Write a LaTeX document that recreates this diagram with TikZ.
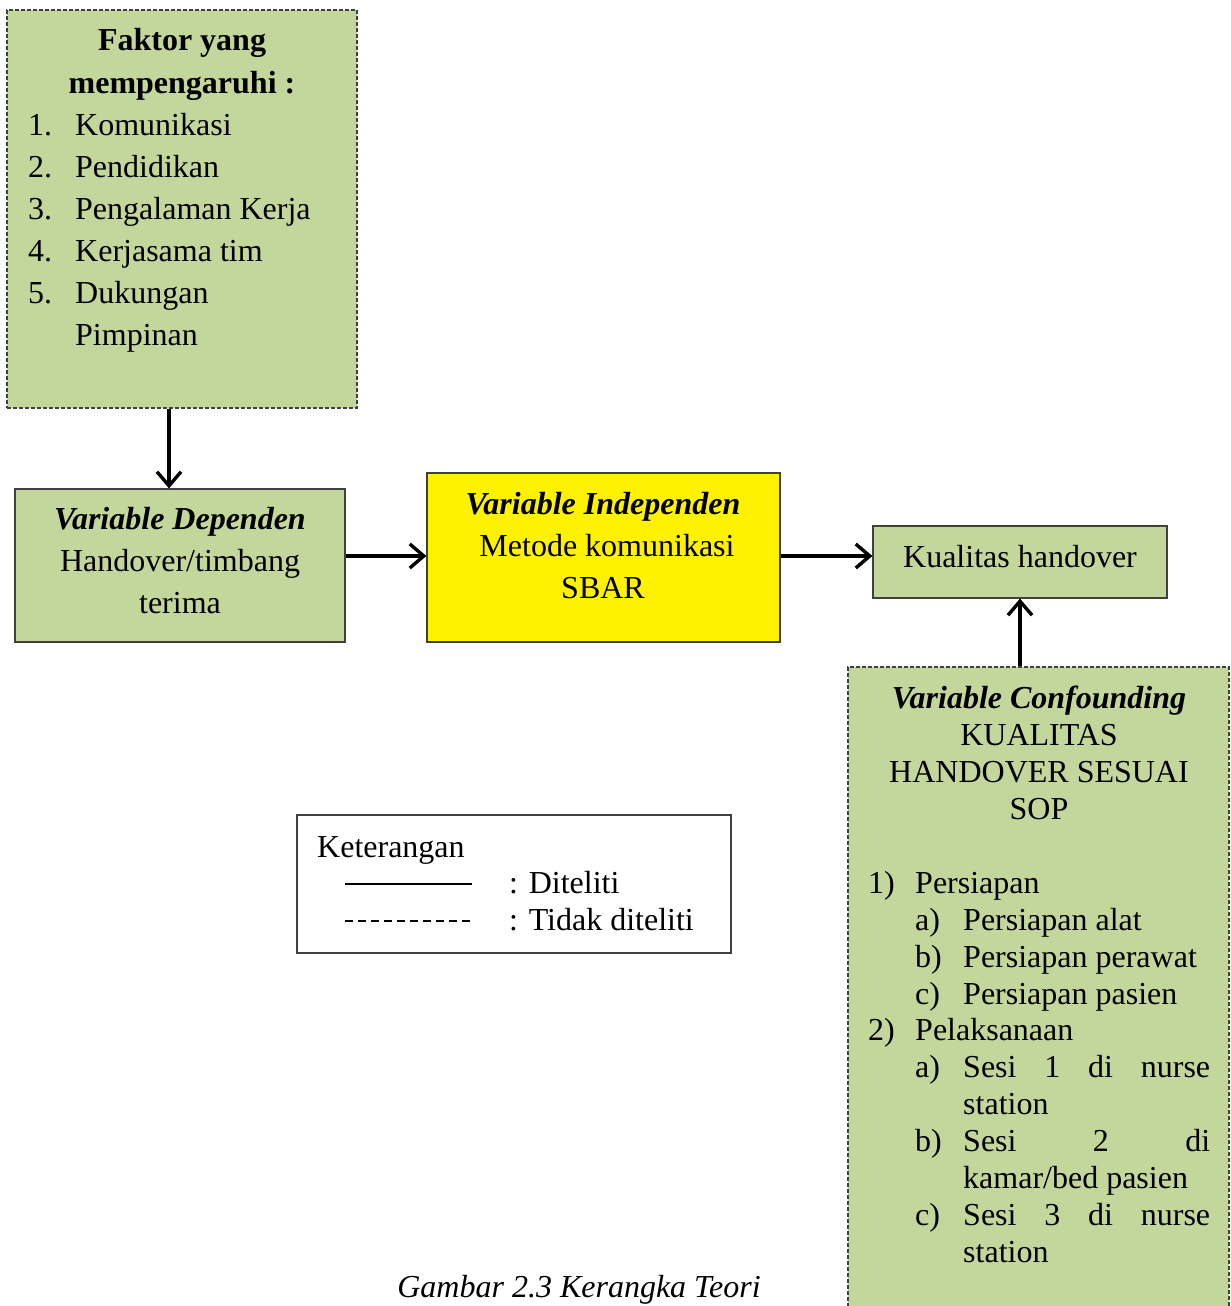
\documentclass[tikz,border=0pt]{standalone}
\usepackage{fontspec}
\setmainfont{Liberation Serif}
\usetikzlibrary{arrows.meta}
\definecolor{boxgreen}{HTML}{C3D69B}
\definecolor{boxline}{HTML}{404040}
\begin{document}
\begin{tikzpicture}[x=1pt,y=-1pt,
  font=\fontsize{32}{38}\selectfont,
  solidbox/.style={draw=boxline,line width=1.2pt,fill=boxgreen,inner sep=0pt},
  dashbox/.style={draw=boxline,line width=1.1pt,dash pattern=on 4pt off 2pt,fill=boxgreen,inner sep=0pt},
  arr/.style={line width=3.4pt,-{Straight Barb[length=14pt,width=24pt]}},
  txt/.style={anchor=base,inner sep=0pt},
  txtw/.style={anchor=base west,inner sep=0pt}]
\useasboundingbox (0,0) rectangle (1231,1306);

% boxes
\node[dashbox,minimum width=350pt,minimum height=398pt] (faktor) at (182,209) {};
\node[solidbox,minimum width=330pt,minimum height=153pt] (dep) at (180,565.5) {};
\node[draw=boxline,line width=1.2pt,fill=yellow,inner sep=0pt,minimum width=353pt,minimum height=169pt] (indep) at (603.5,557.5) {};
\node[solidbox,minimum width=294pt,minimum height=72pt] (kual) at (1020,562) {};
\node[dashbox,minimum width=381pt,minimum height=660pt] (conf) at (1038.5,997) {};
\node[draw=boxline,line width=1.2pt,fill=white,inner sep=0pt,minimum width=434pt,minimum height=138pt] (leg) at (514,884) {};

% connectors
\draw[arr] (169,0 |- faktor.south) -- (169,0 |- dep.north);
\draw[arr] (dep.east |- 0,556) -- (indep.west |- 0,556);
\draw[arr] (indep.east |- 0,556) -- (kual.west |- 0,556);
\draw[arr] (conf.north -| kual.south) -- (kual.south);

% faktor text
\node[txt] (f1) at (182,51) {\bfseries Faktor yang};
\node[txt] (f2) at (182,93) {\bfseries mempengaruhi :};
\node[txtw] (n1) at (28,135) {1.};
\node[txtw] (t1) at (75,135) {Komunikasi};
\node[txtw] (n2) at (28,177) {2.};
\node[txtw] (t2) at (75,177) {Pendidikan};
\node[txtw] (n3) at (28,219) {3.};
\node[txtw] (t3) at (75,219) {Pengalaman Kerja};
\node[txtw] (n4) at (28,261) {4.};
\node[txtw] (t4) at (75,261) {Kerjasama tim};
\node[txtw] (n5) at (28,303) {5.};
\node[txtw] (t5) at (75,303) {Dukungan};
\node[txtw] (t6) at (75,345) {Pimpinan};

% dependen text
\node[txt] (d1) at (180,529) {\bfseries\itshape Variable Dependen};
\node[txt] (d2) at (180,571) {Handover/timbang};
\node[txt] (d3) at (180,613) {terima};

% independen text
\node[txt] (i1) at (603,514) {\bfseries\itshape Variable Independen};
\node[txt] (i2) at (607,556) {Metode komunikasi};
\node[txt] (i3) at (603,598) {SBAR};

% kualitas
\node[txt] (k1) at (1020,567) {Kualitas handover};

% confounding text
\node[txt] (c1) at (1039,708) {\bfseries\itshape Variable Confounding};
\node[txt] (c2) at (1039,745) {KUALITAS};
\node[txt] (c3) at (1039,782) {HANDOVER SESUAI};
\node[txt] (c4) at (1039,819) {SOP};
\node[txtw] (cn1) at (868,893) {1)};
\node[txtw] (ct1) at (915,893) {Persiapan};
\node[txtw] (ca1) at (915,930) {a)};
\node[txtw] (cb1) at (963,930) {Persiapan alat};
\node[txtw] (ca2) at (915,967) {b)};
\node[txtw] (cb2) at (963,967) {Persiapan perawat};
\node[txtw] (ca3) at (915,1004) {c)};
\node[txtw] (cb3) at (963,1004) {Persiapan pasien};
\node[txtw] (cn2) at (868,1040) {2)};
\node[txtw] (ct2) at (915,1040) {Pelaksanaan};
\node[txtw] (cd1) at (915,1077) {a)};
\node[txtw] (ce1) at (963,1077) {\makebox[247pt][s]{Sesi\hfill 1\hfill di\hfill nurse}};
\node[txtw] (ce1b) at (963,1114) {station};
\node[txtw] (cd2) at (915,1151) {b)};
\node[txtw] (ce2) at (963,1151) {\makebox[247pt][s]{Sesi\hfill 2\hfill di}};
\node[txtw] (ce2b) at (963,1188) {kamar/bed pasien};
\node[txtw] (cd3) at (915,1225) {c)};
\node[txtw] (ce3) at (963,1225) {\makebox[247pt][s]{Sesi\hfill 3\hfill di\hfill nurse}};
\node[txtw] (ce3b) at (963,1262) {station};

% legend
\node[txtw] (l0) at (317,857) {Keterangan};
\draw[line width=1.6pt] (345,884) -- (472,884);
\draw[line width=1.2pt,dash pattern=on 8pt off 5pt] (345,921) -- (473,921);
\node[txtw] (l1) at (509,893) {: Diteliti};
\node[txtw] (l2) at (509,930) {: Tidak diteliti};

% caption
\node[txt] (cap) at (579,1297) {\itshape Gambar 2.3 Kerangka Teori};
\end{tikzpicture}
\end{document}
